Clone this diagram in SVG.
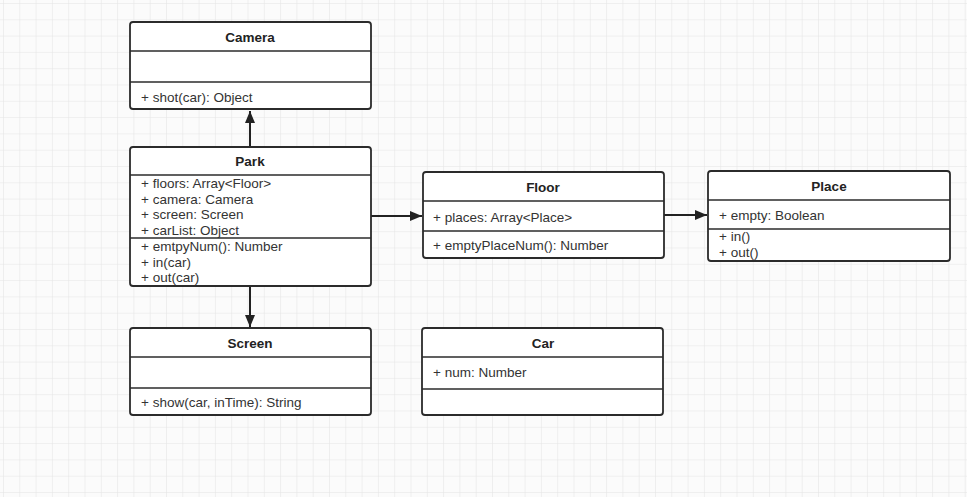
<svg xmlns="http://www.w3.org/2000/svg" width="967" height="497" viewBox="0 0 967 497">
<style>
.box{fill:#ffffff;stroke:#2b2b2b;stroke-width:1.8}
.sep{stroke:#2b2b2b;stroke-width:1.6}
.title{font-family:"Liberation Sans",Arial,sans-serif;font-size:13.5px;font-weight:bold;fill:#222;text-anchor:middle}
.t{font-family:"Liberation Sans",Arial,sans-serif;font-size:13.5px;fill:#333}
.edge{stroke:#222;stroke-width:2;fill:none}
</style>
<defs>
<pattern id="grid" x="3" y="3" width="16.3" height="16.3" patternUnits="userSpaceOnUse">
<path d="M16.3 0 L0 0 0 16.3" fill="none" stroke="#e3e3e3" stroke-width="1"/>
</pattern>
<marker id="arr" markerWidth="12" markerHeight="10" refX="12" refY="5" orient="auto" markerUnits="userSpaceOnUse">
<path d="M0 0 L12 5 L0 10 Z" fill="#222"/>
</marker>
</defs>
<rect width="967" height="497" fill="#fbfbfb"/>
<rect width="967" height="497" fill="url(#grid)"/>

<g id="connectors">
<line class="edge" x1="250" y1="147" x2="250" y2="111" marker-end="url(#arr)"/>
<line class="edge" x1="250" y1="286" x2="250" y2="327" marker-end="url(#arr)"/>
<line class="edge" x1="371" y1="216" x2="422" y2="216" marker-end="url(#arr)"/>
<line class="edge" x1="664" y1="215" x2="707" y2="215" marker-end="url(#arr)"/>
</g>

<g id="camera">
<rect class="box" x="130" y="22" width="241" height="87" rx="3"/>
<line class="sep" x1="130" y1="51" x2="371" y2="51"/>
<line class="sep" x1="130" y1="82" x2="371" y2="82"/>
<text class="title" x="250" y="42">Camera</text>
<text class="t" x="141" y="102">+ shot(car): Object</text>
</g>

<g id="park">
<rect class="box" x="130" y="147" width="241" height="139" rx="3"/>
<line class="sep" x1="130" y1="175" x2="371" y2="175"/>
<line class="sep" x1="130" y1="238" x2="371" y2="238"/>
<text class="title" x="250" y="166">Park</text>
<text class="t" x="141" y="188">+ floors: Array&lt;Floor&gt;</text>
<text class="t" x="141" y="203.5">+ camera: Camera</text>
<text class="t" x="141" y="219">+ screen: Screen</text>
<text class="t" x="141" y="234.5">+ carList: Object</text>
<text class="t" x="141" y="251">+ emtpyNum(): Number</text>
<text class="t" x="141" y="266.5">+ in(car)</text>
<text class="t" x="141" y="282">+ out(car)</text>
</g>

<g id="screen">
<rect class="box" x="130" y="328" width="241" height="87" rx="3"/>
<line class="sep" x1="130" y1="357" x2="371" y2="357"/>
<line class="sep" x1="130" y1="388" x2="371" y2="388"/>
<text class="title" x="250" y="348">Screen</text>
<text class="t" x="141" y="407">+ show(car, inTime): String</text>
</g>

<g id="floor">
<rect class="box" x="423" y="172" width="241" height="86" rx="3"/>
<line class="sep" x1="423" y1="201" x2="664" y2="201"/>
<line class="sep" x1="423" y1="231" x2="664" y2="231"/>
<text class="title" x="543" y="192">Floor</text>
<text class="t" x="433" y="222">+ places: Array&lt;Place&gt;</text>
<text class="t" x="433" y="250">+ emptyPlaceNum(): Number</text>
</g>

<g id="place">
<rect class="box" x="708" y="171" width="242" height="90" rx="3"/>
<line class="sep" x1="708" y1="200" x2="950" y2="200"/>
<line class="sep" x1="708" y1="229" x2="950" y2="229"/>
<text class="title" x="829" y="191">Place</text>
<text class="t" x="719" y="220">+ empty: Boolean</text>
<text class="t" x="719" y="241">+ in()</text>
<text class="t" x="719" y="256.5">+ out()</text>
</g>

<g id="car">
<rect class="box" x="422" y="328" width="241" height="87" rx="3"/>
<line class="sep" x1="422" y1="357" x2="663" y2="357"/>
<line class="sep" x1="422" y1="389" x2="663" y2="389"/>
<text class="title" x="543" y="348">Car</text>
<text class="t" x="433" y="377">+ num: Number</text>
</g>
</svg>
